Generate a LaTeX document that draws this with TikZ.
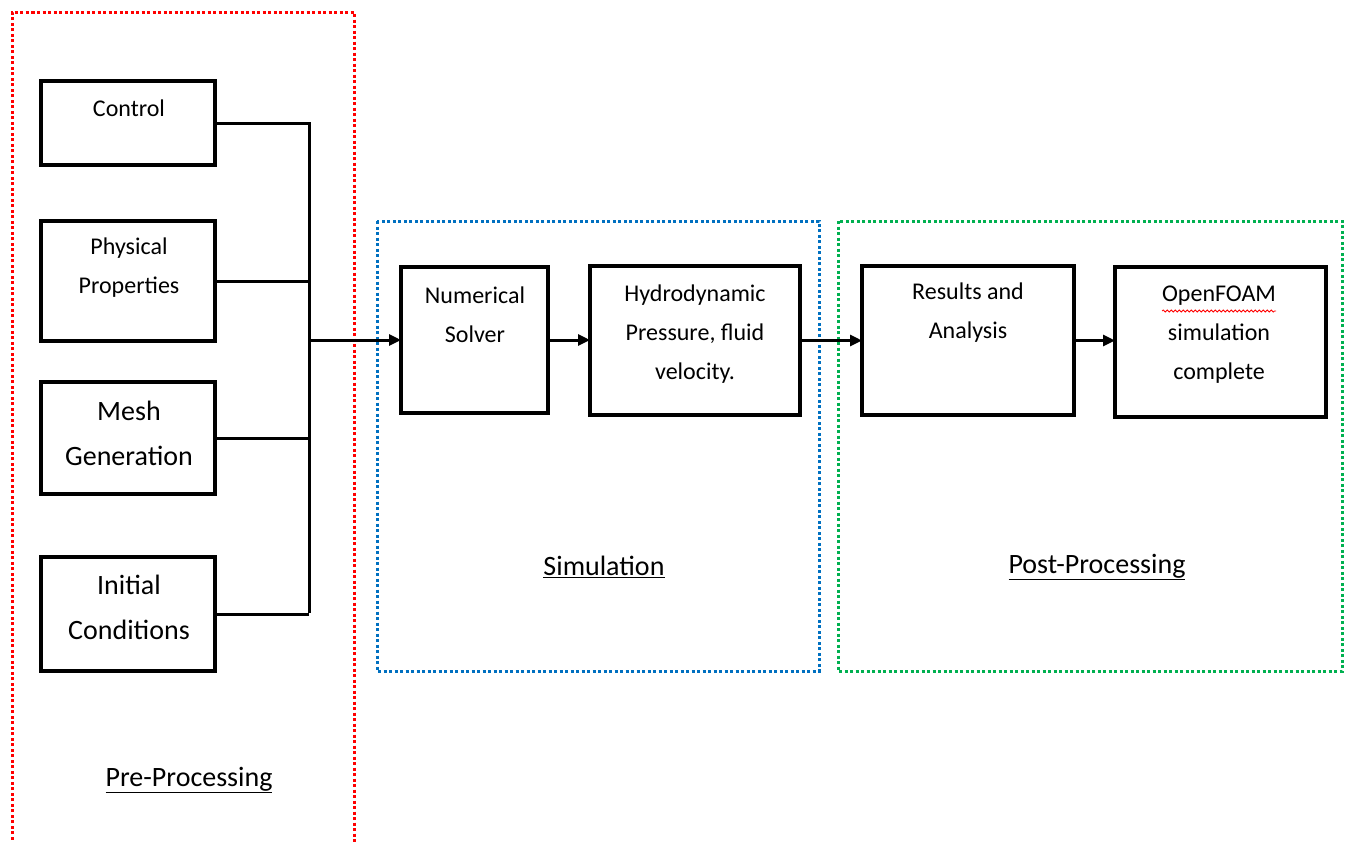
\documentclass[tikz,border=0pt]{standalone}
\usepackage{fontspec}
\setmainfont{Carlito}
\usetikzlibrary{arrows.meta,decorations.pathmorphing}
\definecolor{dred}{HTML}{FF0000}
\definecolor{dblue}{HTML}{0070C0}
\definecolor{dgreen}{HTML}{00B050}
\tikzset{
  box/.style={draw=black, line width=3.4pt, anchor=north west, inner sep=0pt, outer sep=0pt},
  txt/.style={align=center, font=\fontsize{24}{39}\selectfont, inner sep=0pt},
  bigtxt/.style={align=center, font=\fontsize{28}{45}\selectfont, inner sep=0pt},
  grp/.style={line width=3pt, dash pattern=on 3pt off 2.5pt},
  wire/.style={draw=black, line width=3pt},
  arr/.style={wire, -{Triangle[length=12pt,width=11pt]}},
}
\begin{document}
\begin{tikzpicture}[x=1pt,y=-1pt]
\useasboundingbox (0,0) rectangle (1349,841);
% group frames
\draw[grp, dred] (12,845) -- (12,12) -- (354,12) -- (354,845);
\draw[grp, dblue] (377,221) rectangle (819,671);
\draw[grp, dgreen] (838,221) rectangle (1342,671);
% boxes
\node[box, minimum width=174pt, minimum height=84pt] (ctrl) at (41,81) {};
\node[box, minimum width=174pt, minimum height=120pt] (phys) at (41,221) {};
\node[box, minimum width=174pt, minimum height=112pt] (mesh) at (41,382) {};
\node[box, minimum width=174pt, minimum height=114pt] (init) at (41,557) {};
\node[box, minimum width=147pt, minimum height=146pt] (num) at (401,267) {};
\node[box, minimum width=210pt, minimum height=149pt] (hyd) at (590,266) {};
\node[box, minimum width=212pt, minimum height=149pt] (res) at (862,266) {};
\node[box, minimum width=211pt, minimum height=150pt] (of) at (1115,267) {};
% texts
\node[txt] (tctrl) at (129,108) {Control};
\node[txt] (tphys) at (129,268) {Physical\\Properties};
\node[bigtxt] (tmesh) at (129,433) {Mesh\\Generation};
\node[bigtxt] (tinit) at (129,607) {Initial\\Conditions};
\node[txt] (tnum) at (475,315) {Numerical\\Solver};
\node[txt] (thyd) at (695,334) {Hydrodynamic\\Pressure, fluid\\velocity.};
\node[txt] (tres) at (968,313) {Results and\\Analysis};
\node[txt] (tof) at (1219,335) {OpenFOAM\\simulation\\complete};
\draw[dred, line width=0.8pt, decorate, decoration={snake, amplitude=1pt, segment length=4pt}]
  (1162,311) -- (1276,311);
% group labels
\node[bigtxt] (lpre) at (189,780) {\underline{Pre-Processing}};
\node[bigtxt] (lsim) at (604,567) {\underline{Simulation}};
\node[bigtxt] (lpost) at (1097,567) {\underline{Post-Processing}};
% bus
\coordinate (busbot) at (309,613);
\coordinate (bus) at (309,340);
\draw[wire] (ctrl.east) -| (busbot);
\draw[wire] (phys.east) -- (phys.east -| busbot);
\draw[wire] (mesh.east) -- (mesh.east -| busbot);
\draw[wire] (init.east) -- (init.east -| busbot);
% arrows
\draw[arr] (bus) -- (bus -| num.west);
\draw[arr] (num.east) -- (num.east -| hyd.west);
\draw[arr] (hyd.east) -- (hyd.east -| res.west);
\draw[arr] (res.east) -- (res.east -| of.west);
\end{tikzpicture}
\end{document}
